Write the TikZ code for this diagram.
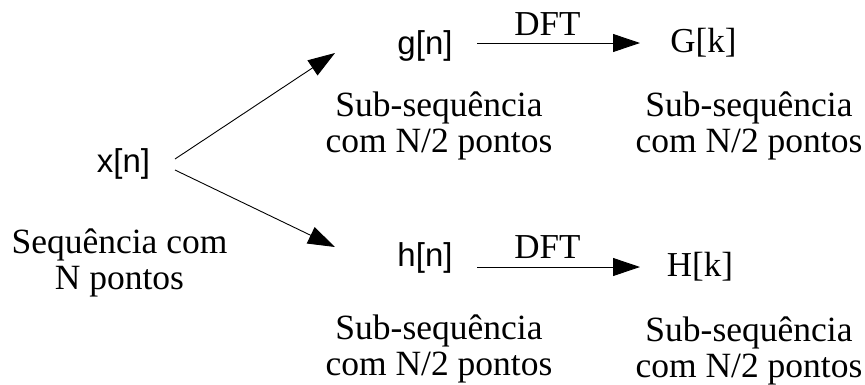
\documentclass[tikz,border=0pt]{standalone}
\usepackage{fontspec}
\setmainfont{Liberation Serif}
\setsansfont{Liberation Sans}
\usetikzlibrary{arrows.meta}
\tikzset{
  sig/.style={font=\sffamily\fontsize{33}{36}\selectfont, inner sep=0pt, anchor=base},
  spec/.style={font=\fontsize{35}{36}\selectfont, inner sep=0pt, anchor=base},
  desc/.style={font=\fontsize{35.5}{36}\selectfont, align=center, inner sep=0pt},
  arr/.style={line width=0.9pt, -{Triangle[length=27pt,width=18pt]}},
}
\begin{document}
\begin{tikzpicture}[x=1pt,y=-1pt]
\useasboundingbox (0,0) rectangle (865,384);
\node[sig] (x) at (123.5,172) {x[n]};
\node[desc] (xd) at (119.5,262.5) {Sequência com\\N pontos};
\node[sig] (g) at (425,54) {g[n]};
\node[spec] (G) at (703.5,52) {G[k]};
\node[sig] (h) at (425,266) {h[n]};
\node[spec] (H) at (700,276) {H[k]};
\node[desc] (gd) at (439,125.5) {Sub-sequência\\com N/2 pontos};
\node[desc] (Gd) at (749,125.5) {Sub-sequência\\com N/2 pontos};
\node[desc] (hd) at (439,348.5) {Sub-sequência\\com N/2 pontos};
\node[desc] (Hd) at (749,350.5) {Sub-sequência\\com N/2 pontos};
\coordinate (xa) at (175,159);
\coordinate (xb) at (175,170);
\coordinate (gt) at (335,53);
\coordinate (ht) at (335,247);
\draw[arr] (xa) -- (gt);
\draw[arr] (xb) -- (ht);
\coordinate (g1) at (477,43);
\coordinate (g2) at (640,43);
\coordinate (h1) at (477,267);
\coordinate (h2) at (640,267);
\draw[arr] (g1) -- (g2);
\draw[arr] (h1) -- (h2);
\node[spec] (dg) at (547.5,35) {DFT};
\node[spec] (dh) at (547.5,258) {DFT};
\end{tikzpicture}
\end{document}
